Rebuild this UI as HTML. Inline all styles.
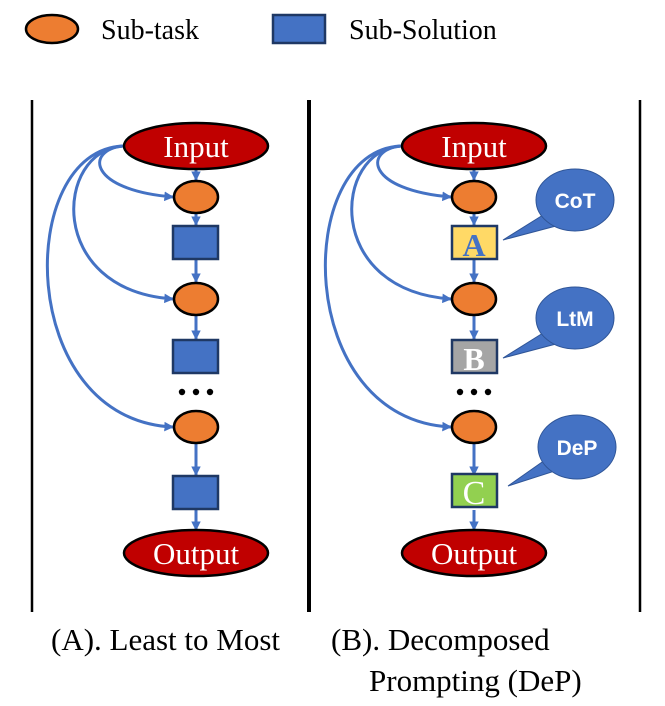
<!DOCTYPE html>
<html><head><meta charset="utf-8"><style>
html,body{margin:0;padding:0;background:#fff;}
svg{display:block;}
.t{font-family:"Liberation Serif",serif;}
.b{font-family:"Liberation Sans",sans-serif;font-weight:bold;}
</style></head><body>
<svg width="665" height="706" viewBox="0 0 665 706" xmlns="http://www.w3.org/2000/svg">
<defs>
<marker id="ar" viewBox="0 0 10 10" refX="9" refY="5" markerWidth="3.2" markerHeight="3.2" orient="auto"><path d="M0,0 L10,5 L0,10 z" fill="#4472C4"/></marker>
</defs>
<ellipse cx="52" cy="29" rx="26" ry="14" fill="#ED7D31" stroke="#000" stroke-width="2.5"/>
<text x="101" y="39" class="t" font-size="28">Sub-task</text>
<rect x="273" y="15" width="52" height="28" fill="#4472C4" stroke="#1F3864" stroke-width="2.5"/>
<text x="349" y="39" class="t" font-size="28">Sub-Solution</text>
<line x1="32" y1="100" x2="32" y2="612" stroke="#000" stroke-width="2.5"/>
<line x1="309" y1="100" x2="309" y2="612" stroke="#000" stroke-width="4"/>
<line x1="640" y1="100" x2="640" y2="612" stroke="#000" stroke-width="2.5"/>

<g id="L">
<g stroke="#4472C4" stroke-width="3" fill="none" marker-end="url(#ar)">
<line x1="196" y1="170" x2="196" y2="180"/>
<line x1="196" y1="213" x2="196" y2="225"/>
<line x1="196" y1="260" x2="196" y2="282"/>
<line x1="196" y1="316" x2="196" y2="339"/>
<line x1="196" y1="444" x2="196" y2="475"/>
<line x1="196" y1="510" x2="196" y2="530"/>
<path d="M123,146 C85,150 88,190 173,197"/>
<path d="M123,146 C55,150 45,290 173,299"/>
<path d="M123,146 C15,150 15,420 173,427"/>
</g>
<ellipse cx="196" cy="146" rx="72" ry="23" fill="#C00000" stroke="#000" stroke-width="2.5"/>
<text x="196" y="157" class="t" font-size="31" fill="#fff" text-anchor="middle">Input</text>
<ellipse cx="196" cy="197" rx="22" ry="16" fill="#ED7D31" stroke="#000" stroke-width="2.5"/>
<ellipse cx="196" cy="299" rx="22" ry="16" fill="#ED7D31" stroke="#000" stroke-width="2.5"/>
<ellipse cx="196" cy="427" rx="22" ry="16" fill="#ED7D31" stroke="#000" stroke-width="2.5"/>
<circle cx="182" cy="392" r="3.2" fill="#000"/><circle cx="196" cy="392" r="3.2" fill="#000"/><circle cx="210" cy="392" r="3.2" fill="#000"/>
<ellipse cx="196" cy="553" rx="72" ry="23" fill="#C00000" stroke="#000" stroke-width="2.5"/>
<text x="196" y="564" class="t" font-size="31" fill="#fff" text-anchor="middle">Output</text>
</g>
<rect x="173" y="226" width="45" height="33" fill="#4472C4" stroke="#1F3864" stroke-width="2.5"/>
<rect x="173" y="340" width="45" height="33" fill="#4472C4" stroke="#1F3864" stroke-width="2.5"/>
<rect x="173" y="476" width="45" height="33" fill="#4472C4" stroke="#1F3864" stroke-width="2.5"/>

<use href="#L" x="278"/>
<rect x="452" y="226" width="45" height="33" fill="#FFD966" stroke="#1F3864" stroke-width="2.5"/>
<text x="474" y="256" class="t" font-size="32" font-weight="bold" fill="#4472C4" text-anchor="middle">A</text>
<rect x="452" y="340" width="45" height="33" fill="#A5A5A5" stroke="#1F3864" stroke-width="2.5"/>
<text x="474" y="370" class="t" font-size="32" font-weight="bold" fill="#fff" text-anchor="middle">B</text>
<rect x="452" y="474" width="45" height="33" fill="#92D050" stroke="#1F3864" stroke-width="2.5"/>
<text x="474" y="504" class="t" font-size="34" fill="#fff" text-anchor="middle">C</text>

<g fill="#4472C4" stroke="#2F5597" stroke-width="1">
<path d="M543,215 L503,240 L556,226 Z"/>
<ellipse cx="575" cy="200" rx="39" ry="31"/>
<path d="M543,333 L503,358 L556,344 Z"/>
<ellipse cx="575" cy="318" rx="39" ry="31"/>
<path d="M545,460 L508,486 L558,470 Z"/>
<ellipse cx="577" cy="447" rx="39" ry="32"/>
</g>
<text x="575" y="208" class="b" font-size="21" fill="#fff" text-anchor="middle">CoT</text>
<text x="575" y="326" class="b" font-size="21" fill="#fff" text-anchor="middle">LtM</text>
<text x="577" y="455" class="b" font-size="21" fill="#fff" text-anchor="middle">DeP</text>

<text x="51" y="650" class="t" font-size="31">(A). Least to Most</text>
<text x="331" y="650" class="t" font-size="31">(B). Decomposed</text>
<text x="369" y="691" class="t" font-size="31">Prompting (DeP)</text>
</svg>
</body></html>
